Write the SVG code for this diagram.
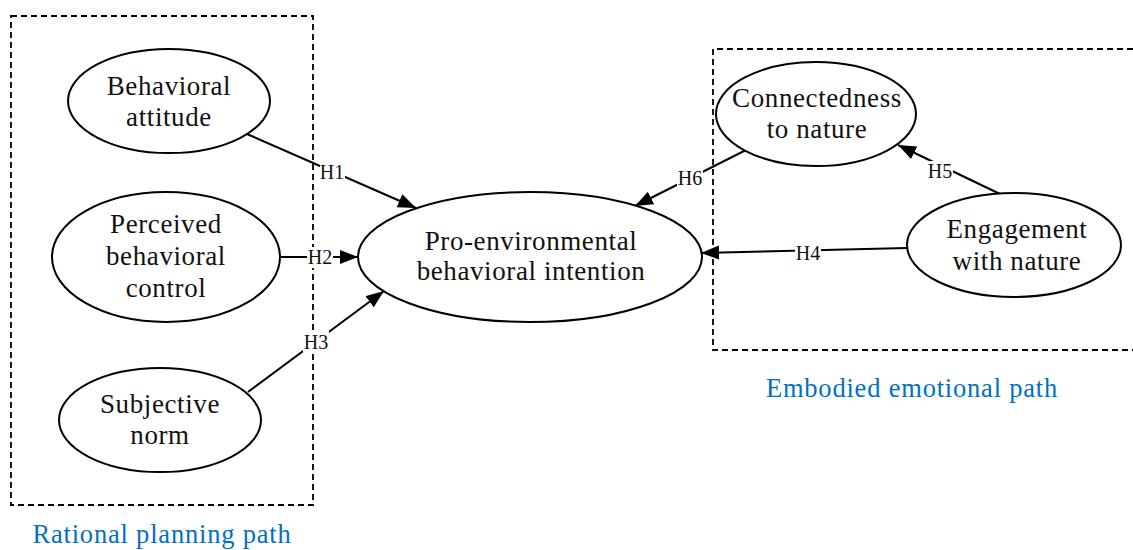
<svg xmlns="http://www.w3.org/2000/svg" width="1133" height="550" viewBox="0 0 1133 550">
<defs>
<style>
.node ellipse{fill:#fff;stroke:#000;stroke-width:2}
.node text{font-family:"Liberation Serif","Times New Roman",serif;font-size:27px;letter-spacing:0.6px;text-anchor:middle;fill:#111}
.box{fill:none;stroke:#000;stroke-width:1.8;stroke-dasharray:6,4}
.edge{stroke:#000;stroke-width:2;fill:none;marker-end:url(#arr)}
.lbl rect{fill:#fff}
.lbl text{font-family:"Liberation Serif","Times New Roman",serif;font-size:20px;text-anchor:middle;fill:#111}
.path{font-family:"Liberation Serif","Times New Roman",serif;font-size:26.5px;letter-spacing:0.8px;fill:#0070C0;text-anchor:middle}
</style>
<marker id="arr" markerUnits="userSpaceOnUse" markerWidth="20" markerHeight="16" refX="18" refY="7" orient="auto">
<path d="M0,0 L18,7 L0,14 Z" fill="#000"/>
</marker>
</defs>
<rect width="1133" height="550" fill="#fff"/>
<g id="groups">
<rect class="box" x="11" y="16" width="302" height="489"/>
<path class="box" d="M1133,49 L713,49 L713,350 L1133,350"/>
<text class="path" x="162" y="543">Rational planning path</text>
<text class="path" x="912" y="397">Embodied emotional path</text>
</g>
<g id="connectors">
<line class="edge" x1="247" y1="134" x2="416" y2="208"/>
<line class="edge" x1="281" y1="257" x2="358" y2="257"/>
<line class="edge" x1="248" y1="392" x2="384" y2="291"/>
<line class="edge" x1="907" y1="248" x2="701" y2="253"/>
<line class="edge" x1="1000" y1="194" x2="898" y2="145"/>
<line class="edge" x1="746" y1="150" x2="635" y2="206"/>
<g class="lbl">
<rect x="320" y="161" width="25" height="21"/><text x="332" y="179">H1</text>
<rect x="307" y="247" width="26" height="21"/><text x="320" y="264">H2</text>
<rect x="303" y="331" width="26" height="21"/><text x="316" y="349">H3</text>
<rect x="795" y="243" width="26" height="21"/><text x="808" y="260">H4</text>
<rect x="927" y="161" width="26" height="21"/><text x="940" y="178">H5</text>
<rect x="677" y="168" width="26" height="21"/><text x="690" y="185">H6</text>
</g>
</g>
<g id="behavioral-attitude" class="node">
<ellipse cx="169" cy="101" rx="101" ry="52"/>
<text x="169" y="95">Behavioral</text><text x="169" y="126">attitude</text>
</g>
<g id="perceived-behavioral-control" class="node">
<ellipse cx="166" cy="257" rx="114" ry="65"/>
<text x="166" y="233">Perceived</text><text x="166" y="265">behavioral</text><text x="166" y="297">control</text>
</g>
<g id="subjective-norm" class="node">
<ellipse cx="160" cy="420" rx="101" ry="52"/>
<text x="160" y="413">Subjective</text><text x="160" y="444">norm</text>
</g>
<g id="intention" class="node">
<ellipse cx="530" cy="257" rx="172" ry="65"/>
<text x="531" y="250">Pro-environmental</text><text x="531" y="280">behavioral intention</text>
</g>
<g id="connectedness" class="node">
<ellipse cx="816" cy="114" rx="100" ry="52"/>
<text x="817" y="107">Connectedness</text><text x="817" y="138">to nature</text>
</g>
<g id="engagement" class="node">
<ellipse cx="1014" cy="245" rx="107" ry="52"/>
<text x="1017" y="238">Engagement</text><text x="1017" y="270">with nature</text>
</g>
</svg>
